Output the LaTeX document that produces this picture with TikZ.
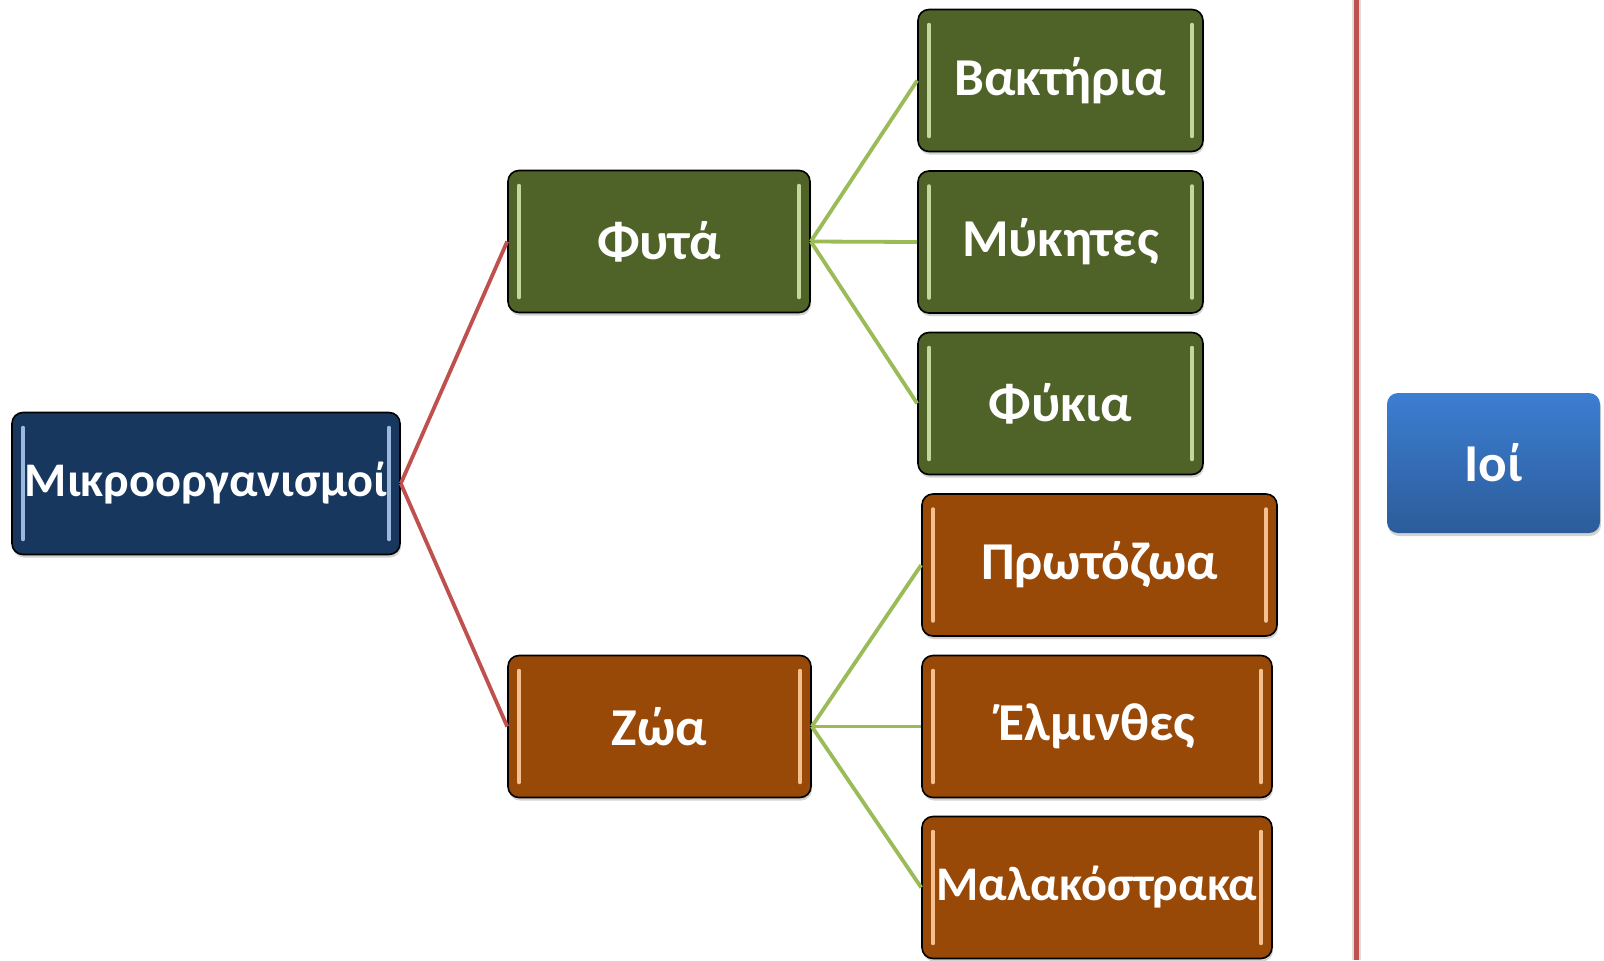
\documentclass[tikz,border=0pt]{standalone}
\usepackage{fontspec}
\setmainfont{Carlito}
\usetikzlibrary{shadows}
\definecolor{navy}{HTML}{17375E}
\definecolor{navybar}{HTML}{9BB8DD}
\definecolor{olive}{HTML}{4F6228}
\definecolor{olivebar}{HTML}{C3D69B}
\definecolor{rust}{HTML}{984807}
\definecolor{rustbar}{HTML}{F6C08E}
\definecolor{skytop}{HTML}{3C7ED2}
\definecolor{skybot}{HTML}{2C5C9A}
\definecolor{redline}{HTML}{C0504D}
\definecolor{greenline}{HTML}{9BBB59}
\tikzset{
  big/.style={font=\bfseries\fontsize{53.5}{54}\selectfont},
  small/.style={font=\bfseries\fontsize{48.5}{49}\selectfont},
  box/.style={rounded corners=11bp, draw=black, line width=1.6bp, text=white,
    big, minimum height=142bp, inner sep=0pt,
    drop shadow={opacity=0.35, shadow xshift=1bp, shadow yshift=-3bp}},
  bars/.style={path picture={
    \draw[#1, line width=3.5bp, line cap=round]
      ([xshift=11bp,yshift=-15bp]path picture bounding box.north west) --
      ([xshift=11bp,yshift=15bp]path picture bounding box.south west);
    \draw[#1, line width=3.5bp, line cap=round]
      ([xshift=-11bp,yshift=-15bp]path picture bounding box.north east) --
      ([xshift=-11bp,yshift=15bp]path picture bounding box.south east);}},
  navybox/.style={box, fill=navy, bars=navybar},
  olivebox/.style={box, fill=olive, bars=olivebar},
  rustbox/.style={box, fill=rust, bars=rustbar},
  bluebox/.style={rounded corners=11bp, text=white, top color=skytop, bottom color=skybot,
    big, minimum height=140bp, inner sep=0pt,
    drop shadow={opacity=0.35, shadow xshift=1bp, shadow yshift=-3bp}},
  redlink/.style={draw=redline, line width=3.8bp},
  greenlink/.style={draw=greenline, line width=3.8bp},
}
\begin{document}
\begin{tikzpicture}[x=1bp, y=-1bp]
  \useasboundingbox[fill=white] (0,0) rectangle (1604,960);

  % separator on the right
  \coordinate (septop) at (1356,0);
  \coordinate (sepbot) at (1356,960);
  \draw[black!25, opacity=0.5, line width=9bp] (septop) -- (sepbot);
  \draw[draw=redline, line width=5bp] (septop) -- (sepbot);

  % hierarchy
  \node[navybox, small, minimum width=388bp] (root) at (206,483.5) {Μικροοργανισμοί};
  \node[olivebox, minimum width=302bp] (plants) at (659,241.5) {Φυτά};
  \node[rustbox, minimum width=303bp] (animals) at (659.5,726.5) {Ζώα};

  \node[olivebox, minimum width=285bp] (bact) at (1060.5,80.5) {Βακτήρια};
  \node[olivebox, minimum width=285bp] (fungi) at (1060.5,242) {Μύκητες};
  \node[olivebox, minimum width=285bp] (algae) at (1060.5,403.5) {Φύκια};

  \node[rustbox, minimum width=355bp] (proto) at (1099.5,565) {Πρωτόζωα};
  \node[rustbox, minimum width=350bp] (worms) at (1097,726.5) {Έλμινθες};
  \node[rustbox, small, minimum width=350bp] (crust) at (1097,887.5) {Μαλακόστρακα};

  \node[bluebox, minimum width=213bp] (virus) at (1493.5,463) {Ιοί};

  % connectors
  \path[redlink] (root.east) -- (plants.west);
  \path[redlink] (root.east) -- (animals.west);
  \path[greenlink] (plants.east) -- (bact.west);
  \path[greenlink] (plants.east) -- (fungi.west);
  \path[greenlink] (plants.east) -- (algae.west);
  \path[greenlink] (animals.east) -- (proto.west);
  \path[greenlink] (animals.east) -- (worms.west);
  \path[greenlink] (animals.east) -- (crust.west);
\end{tikzpicture}
\end{document}
